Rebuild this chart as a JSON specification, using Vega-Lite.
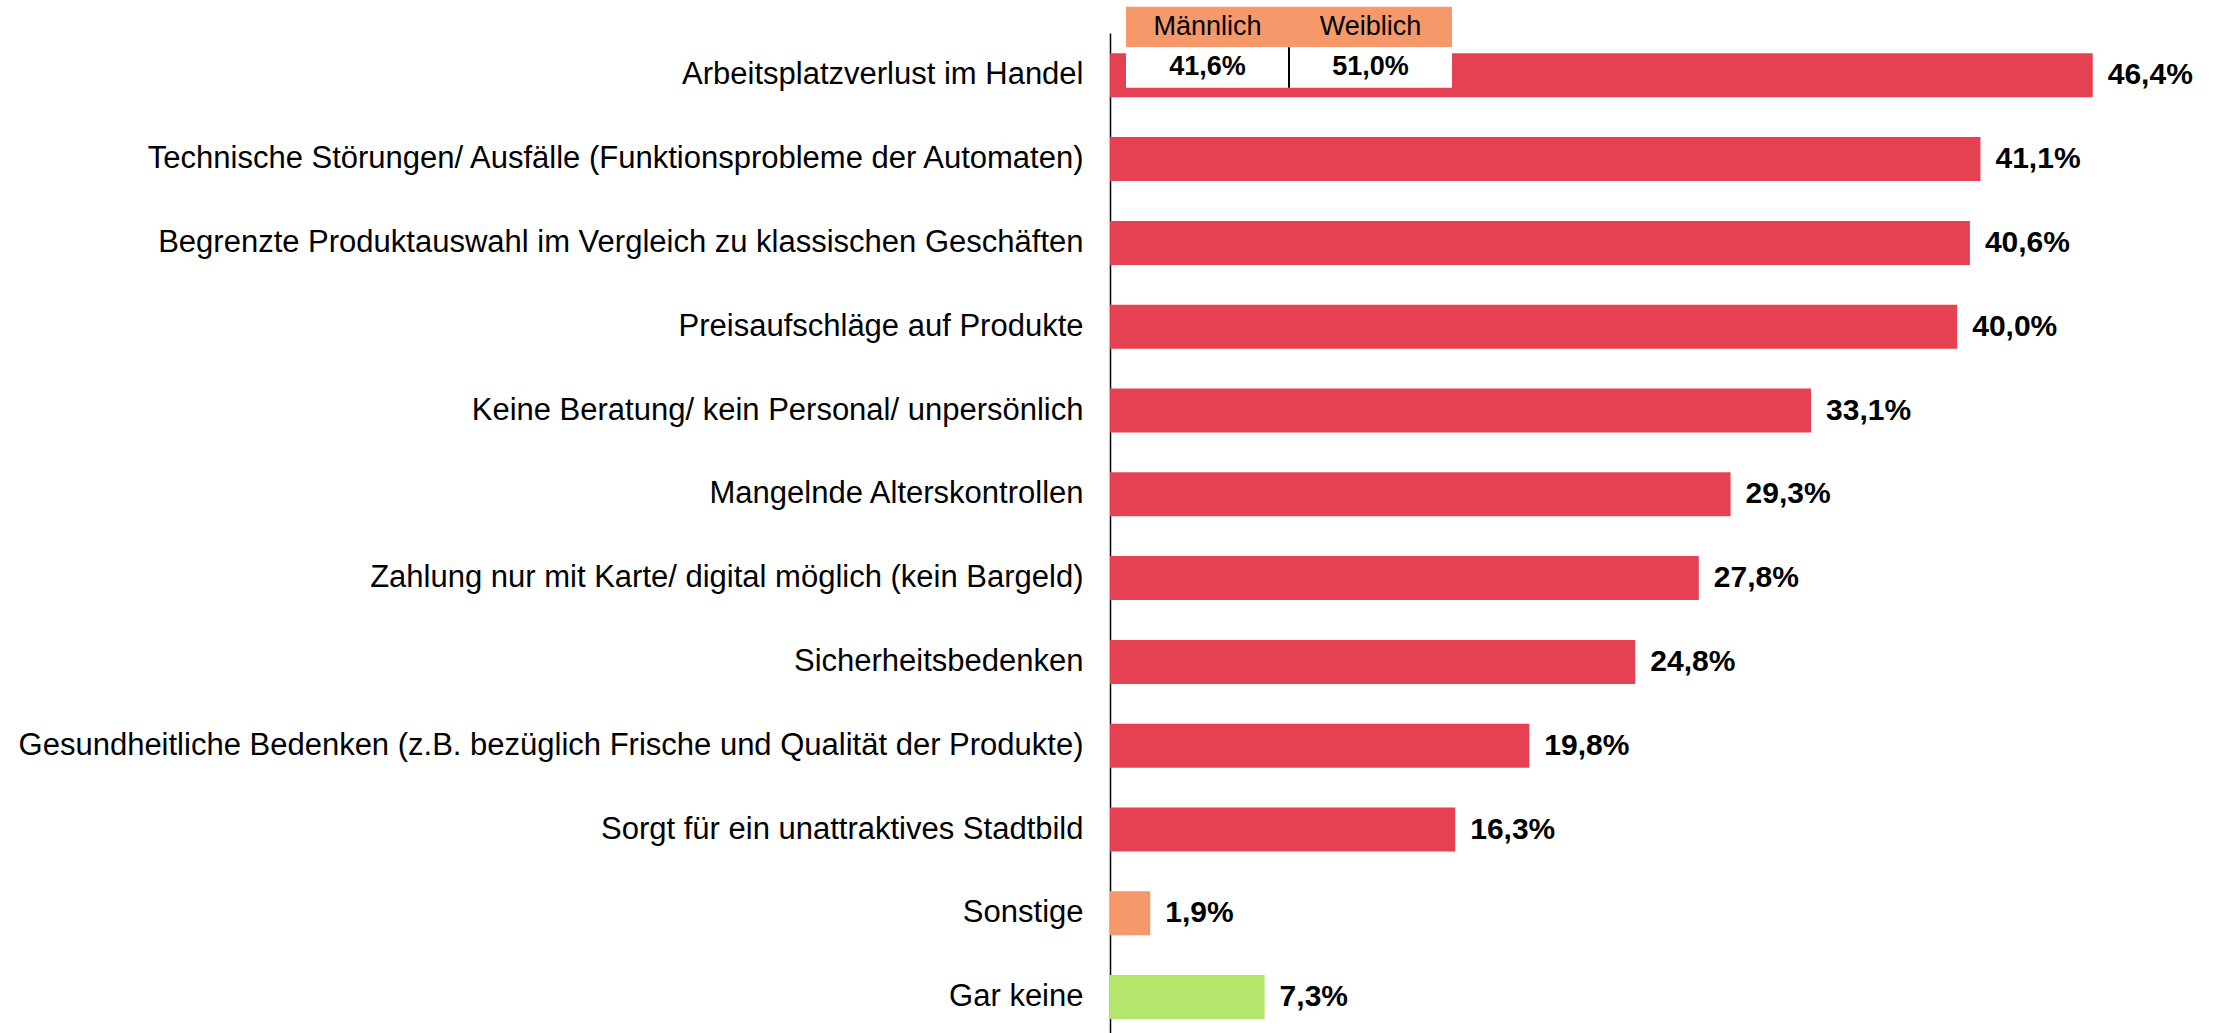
{
  "$schema": "https://vega.github.io/schema/vega-lite/v6.json",
  "width": 1059,
  "height": 1000,
  "autosize": {"type": "none"},
  "padding": {"left": 1110, "top": 33, "right": 52, "bottom": 0},
  "background": "white",
  "config": {
    "view": {"stroke": null},
    "font": "Liberation Sans",
    "locale": {"number": {"decimal": ",", "thousands": ".", "grouping": [3], "currency": ["", "\u00a0€"]}}
  },
  "datasets": {
    "gruende": [
      {"grund": "Arbeitsplatzverlust im Handel", "anteil": 0.464, "typ": "Kritik"},
      {"grund": "Technische Störungen/ Ausfälle (Funktionsprobleme der Automaten)", "anteil": 0.411, "typ": "Kritik"},
      {"grund": "Begrenzte Produktauswahl im Vergleich zu klassischen Geschäften", "anteil": 0.406, "typ": "Kritik"},
      {"grund": "Preisaufschläge auf Produkte", "anteil": 0.400, "typ": "Kritik"},
      {"grund": "Keine Beratung/ kein Personal/ unpersönlich", "anteil": 0.331, "typ": "Kritik"},
      {"grund": "Mangelnde Alterskontrollen", "anteil": 0.293, "typ": "Kritik"},
      {"grund": "Zahlung nur mit Karte/ digital möglich (kein Bargeld)", "anteil": 0.278, "typ": "Kritik"},
      {"grund": "Sicherheitsbedenken", "anteil": 0.248, "typ": "Kritik"},
      {"grund": "Gesundheitliche Bedenken (z.B. bezüglich Frische und Qualität der Produkte)", "anteil": 0.198, "typ": "Kritik"},
      {"grund": "Sorgt für ein unattraktives Stadtbild", "anteil": 0.163, "typ": "Kritik"},
      {"grund": "Sonstige", "anteil": 0.019, "typ": "Sonstige"},
      {"grund": "Gar keine", "anteil": 0.073, "typ": "Keine"}
    ],
    "geschlecht": [
      {"geschlecht": "Männlich", "anteil": 0.416},
      {"geschlecht": "Weiblich", "anteil": 0.510}
    ]
  },
  "layer": [
    {
      "data": {"name": "gruende"},
      "encoding": {
        "y": {
          "field": "grund", "type": "nominal", "sort": null,
          "scale": {"paddingInner": 0.475, "paddingOuter": 0.204, "align": 0.594},
          "axis": {
            "title": null, "ticks": false, "tickSize": 0, "domain": true,
            "domainColor": "#000000", "domainWidth": 1.5, "grid": false,
            "labelFontSize": 31, "labelColor": "#000000", "labelFont": "Liberation Sans",
            "labelPadding": 27, "labelLimit": 1100
          }
        },
        "x": {"field": "anteil", "type": "quantitative", "scale": {"domain": [0, 0.5]}, "axis": null}
      },
      "layer": [
        {
          "mark": {"type": "bar"},
          "encoding": {
            "color": {
              "field": "typ", "type": "nominal",
              "scale": {"domain": ["Kritik", "Sonstige", "Keine"], "range": ["#E64152", "#F5996A", "#B3E66B"]},
              "legend": null
            }
          }
        },
        {
          "mark": {"type": "text", "align": "left", "baseline": "middle", "dx": 15, "fontSize": 30, "fontWeight": "bold", "font": "Liberation Sans", "color": "#000000"},
          "encoding": {
            "text": {"field": "anteil", "type": "quantitative", "format": ".1%"}
          }
        }
      ]
    },
    {
      "data": {"name": "geschlecht"},
      "encoding": {
        "x": {
          "field": "geschlecht", "type": "nominal", "sort": null,
          "scale": {"range": [16, 342], "paddingInner": 0, "paddingOuter": 0},
          "axis": null
        }
      },
      "layer": [
        {
          "mark": {"type": "rect", "color": "#F5996A"},
          "encoding": {
            "y": {"datum": "Kopf", "type": "nominal", "scale": {"domain": ["Kopf", "Wert"], "range": [-26.3, 54.7], "paddingInner": 0, "paddingOuter": 0}, "axis": null}
          }
        },
        {
          "mark": {"type": "rect", "color": "#FFFFFF"},
          "encoding": {
            "y": {"datum": "Wert", "type": "nominal"}
          }
        },
        {
          "mark": {"type": "text", "baseline": "middle", "align": "center", "fontSize": 27, "font": "Liberation Sans", "color": "#000000"},
          "encoding": {
            "y": {"datum": "Kopf", "type": "nominal"},
            "text": {"field": "geschlecht", "type": "nominal"}
          }
        },
        {
          "mark": {"type": "text", "baseline": "middle", "align": "center", "fontSize": 27, "fontWeight": "bold", "font": "Liberation Sans", "color": "#000000"},
          "encoding": {
            "y": {"datum": "Wert", "type": "nominal"},
            "text": {"field": "anteil", "type": "quantitative", "format": ".1%"}
          }
        },
        {
          "transform": [{"filter": "datum.geschlecht === 'Weiblich'"}],
          "mark": {"type": "rule", "color": "#000000", "strokeWidth": 2},
          "encoding": {
            "x": {"field": "geschlecht", "type": "nominal", "bandPosition": 0},
            "y": {"datum": "Wert", "type": "nominal", "bandPosition": 0},
            "y2": {"datum": "Wert", "bandPosition": 1}
          }
        }
      ]
    }
  ],
  "resolve": {"scale": {"x": "independent", "y": "independent", "color": "independent"}}
}
